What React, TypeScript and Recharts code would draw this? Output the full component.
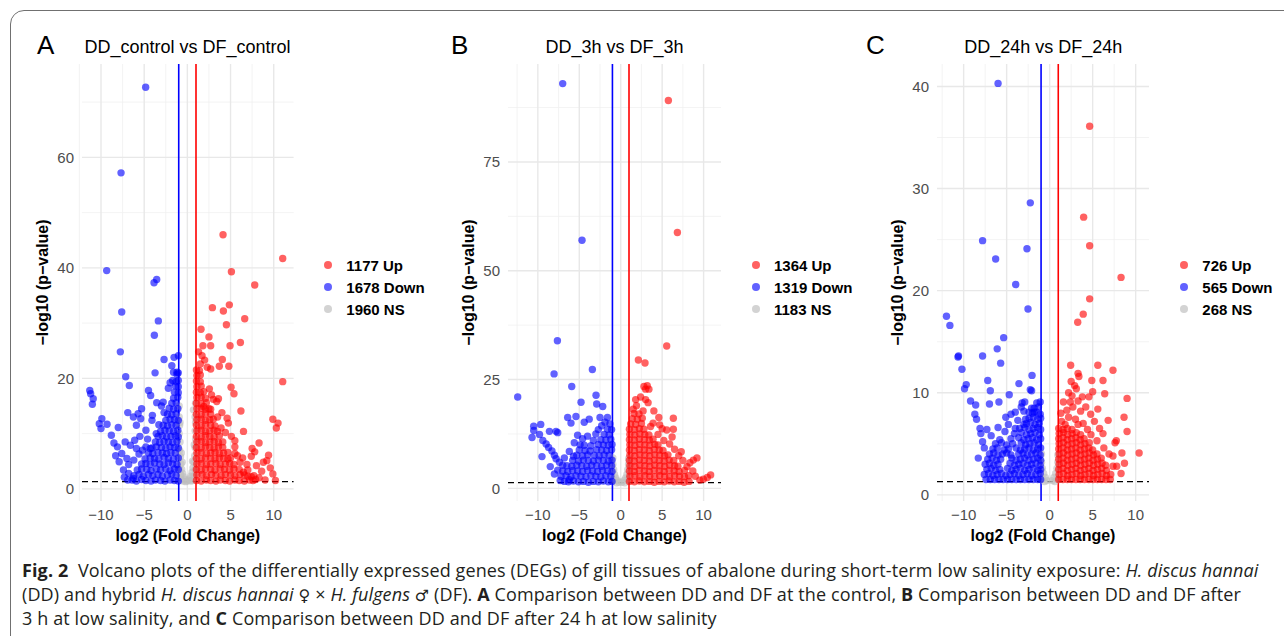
import React from "react";
import { ScatterChart, Scatter, XAxis, YAxis, CartesianGrid, ReferenceLine } from "recharts";

type Pt = [number, number];

// Panel A: DD_control vs DF_control
const downA: Pt[] = [
  [-4.83, 72.7], [-7.68, 57.2], [-9.34, 39.5], [-3.86, 37.3], [-3.55, 37.9], [-7.6, 32.0], [-3.36, 30.4], [-3.82, 27.8],
  [-7.76, 24.8], [-2.7, 23.4], [-1.04, 24.1], [-1.54, 23.8], [-1.8, 22.3], [-3.74, 21.0], [-1.6, 21.1], [-1.2, 21.1],
  [-7.14, 20.3], [-6.72, 18.7], [-11.3, 17.8], [-11.2, 17.2], [-10.9, 16.3], [-11.0, 15.3], [-4.5, 17.8], [-4.25, 16.9],
  [-3.55, 15.6], [-2.8, 15.7], [-2.0, 19.2], [-2.2, 18.2], [-1.7, 19.6], [-9.9, 12.7], [-10.2, 11.8], [-9.3, 11.7],
  [-10.0, 10.9], [-8.0, 11.1], [-6.9, 13.8], [-6.25, 13.0], [-5.7, 13.6], [-5.3, 14.5], [-5.9, 11.5], [-4.8, 10.6],
  [-4.05, 13.3], [-4.1, 12.4], [-5.4, 12.7], [-8.8, 9.7], [-8.5, 8.3], [-8.1, 7.6], [-7.2, 8.5], [-6.6, 7.9],
  [-6.1, 8.8], [-5.9, 7.3], [-4.8, 7.6], [-4.3, 7.3], [-7.6, 6.4], [-7.0, 5.5], [-7.9, 4.9], [-7.4, 3.4], [-6.8, 2.8],
  [-6.25, 1.9], [-6.8, 4.4], [-6.2, 5.2], [-5.6, 6.3], [-5.2, 7.0], [-3.3, 11.6], [-3.6, 10.0], [-2.7, 13.8],
  [-3.0, 15.0], [-7.3, 2.1], [-6.9, 1.6], [-8.3, 6.0], [-5.5, 9.5], [-4.6, 9.0],
  [-6.4, 1.6], [-5.9, 1.4], [-5.3, 1.7], [-4.8, 1.5], [-4.2, 1.4], [-3.7, 1.6], [-3.1, 1.5], [-2.6, 1.4], [-2.0, 1.6], [-1.5, 1.5], [-1.05, 1.4],
  [-6.2, 2.4], [-5.6, 2.6], [-5.1, 2.3], [-4.5, 2.6], [-4.0, 2.4], [-3.4, 2.6], [-2.9, 2.3], [-2.3, 2.5], [-1.8, 2.7], [-1.3, 2.4],
  [-5.8, 3.4], [-5.3, 3.6], [-4.7, 3.5], [-4.2, 3.3], [-3.6, 3.6], [-3.1, 3.4], [-2.5, 3.6], [-2.0, 3.3], [-1.5, 3.6], [-1.05, 3.5],
  [-5.3, 4.5], [-4.8, 4.6], [-4.3, 4.4], [-3.8, 4.7], [-3.2, 4.5], [-2.7, 4.4], [-2.2, 4.7], [-1.7, 4.5], [-1.2, 4.4],
  [-4.9, 5.4], [-4.3, 5.6], [-3.8, 5.5], [-3.3, 5.4], [-2.7, 5.7], [-2.2, 5.5], [-1.6, 5.4], [-1.05, 5.6],
  [-4.5, 6.5], [-4.0, 6.4], [-3.4, 6.6], [-2.9, 6.5], [-2.4, 6.4], [-1.9, 6.6], [-1.4, 6.5],
  [-4.1, 7.4], [-3.6, 7.6], [-3.0, 7.5], [-2.5, 7.4], [-2.0, 7.6], [-1.5, 7.5], [-1.05, 7.4],
  [-3.7, 8.5], [-3.2, 8.4], [-2.7, 8.6], [-2.2, 8.5], [-1.7, 8.4], [-1.2, 8.6],
  [-3.4, 9.5], [-2.9, 9.6], [-2.4, 9.4], [-1.9, 9.5], [-1.4, 9.6], [-1.05, 9.4],
  [-3.1, 10.4], [-2.6, 10.6], [-2.1, 10.5], [-1.6, 10.4], [-1.1, 10.6],
  [-2.8, 11.5], [-2.3, 11.4], [-1.8, 11.6], [-1.3, 11.5],
  [-2.5, 12.4], [-2.0, 12.6], [-1.5, 12.5], [-1.05, 12.4],
  [-2.3, 13.5], [-1.8, 13.4], [-1.3, 13.6], [-2.1, 14.6], [-1.6, 14.4], [-1.1, 14.5],
  [-1.8, 15.5], [-1.3, 15.6], [-1.6, 16.4], [-1.1, 16.6], [-1.5, 17.5], [-1.05, 17.4],
  [-1.4, 18.6], [-1.05, 18.5], [-1.3, 19.4], [-1.05, 19.6], [-1.2, 20.7], [-1.05, 21.0],
];
const upA: Pt[] = [
  [4.13, 46.0], [11.04, 41.7], [5.1, 39.3], [7.8, 36.9], [2.9, 32.8], [4.17, 32.2], [4.86, 33.3], [4.52, 29.7],
  [6.64, 30.8], [1.58, 28.9], [2.5, 27.5], [1.8, 25.9], [2.7, 25.9], [4.94, 25.9], [6.14, 26.5], [1.7, 24.1],
  [2.0, 23.3], [1.5, 22.6], [2.3, 22.0], [2.7, 21.7], [4.05, 23.4], [3.7, 22.2], [4.8, 22.2], [1.3, 24.8],
  [11.04, 19.4], [5.06, 18.4], [5.4, 17.2], [2.55, 18.1], [3.0, 16.2], [3.4, 15.8], [2.8, 17.0], [3.6, 16.3],
  [6.2, 14.1], [2.7, 14.4], [1.9, 14.9], [4.6, 12.8], [4.75, 11.9], [9.9, 12.6], [10.5, 11.9], [10.3, 11.0],
  [6.5, 10.4], [5.1, 9.5], [5.5, 8.7], [8.3, 8.3], [7.5, 7.3], [7.8, 6.7], [7.4, 5.9], [9.4, 6.1], [9.2, 5.1],
  [8.0, 4.2], [8.6, 3.2], [6.9, 4.4], [6.1, 4.8], [5.5, 7.6], [5.5, 6.4], [9.9, 2.7], [10.2, 1.5], [7.0, 3.4],
  [7.7, 2.4], [8.3, 2.0], [9.0, 1.6], [4.4, 10.2], [3.9, 11.0], [4.0, 13.8], [3.5, 13.0], [5.8, 6.0], [6.4, 5.6],
  [8.8, 4.8], [9.6, 3.8], [7.9, 1.7], [6.5, 3.0], [7.6, 1.5], [7.4, 2.2],
  [1.05, 1.5], [1.6, 1.4], [2.2, 1.6], [2.7, 1.5], [3.3, 1.4], [3.8, 1.6], [4.4, 1.5], [4.9, 1.4], [5.5, 1.6], [6.0, 1.5], [6.6, 1.4], [7.2, 1.6],
  [1.1, 2.5], [1.7, 2.6], [2.2, 2.4], [2.8, 2.6], [3.3, 2.5], [3.9, 2.4], [4.4, 2.6], [5.0, 2.5], [5.5, 2.4], [6.1, 2.6], [6.6, 2.5], [7.0, 2.3],
  [1.05, 3.5], [1.6, 3.4], [2.1, 3.6], [2.7, 3.5], [3.2, 3.4], [3.8, 3.6], [4.3, 3.5], [4.9, 3.4], [5.4, 3.6], [6.0, 3.5],
  [1.1, 4.5], [1.6, 4.6], [2.2, 4.4], [2.7, 4.5], [3.3, 4.6], [3.8, 4.4], [4.4, 4.5], [4.9, 4.6], [5.4, 4.4],
  [1.05, 5.5], [1.6, 5.4], [2.1, 5.6], [2.7, 5.5], [3.2, 5.4], [3.7, 5.6], [4.2, 5.5], [4.7, 5.4], [5.0, 5.6],
  [1.1, 6.5], [1.6, 6.6], [2.2, 6.4], [2.7, 6.5], [3.2, 6.6], [3.7, 6.4], [4.2, 6.5], [4.7, 6.6],
  [1.05, 7.5], [1.6, 7.4], [2.1, 7.6], [2.6, 7.5], [3.1, 7.4], [3.6, 7.6], [4.1, 7.5],
  [1.1, 8.5], [1.6, 8.6], [2.1, 8.4], [2.6, 8.5], [3.1, 8.6], [3.6, 8.4], [4.1, 8.5],
  [1.05, 9.5], [1.6, 9.4], [2.1, 9.6], [2.6, 9.5], [3.1, 9.4], [3.7, 9.6],
  [1.1, 10.5], [1.6, 10.6], [2.1, 10.4], [2.6, 10.5], [3.1, 10.6], [3.5, 10.4],
  [1.05, 11.5], [1.6, 11.4], [2.1, 11.6], [2.7, 11.5], [3.2, 11.4],
  [1.1, 12.5], [1.6, 12.6], [2.1, 12.4], [2.6, 12.5], [3.0, 12.6],
  [1.05, 13.5], [1.6, 13.4], [2.1, 13.6], [2.7, 13.5], [1.1, 14.5], [1.6, 14.6], [2.1, 14.4], [2.5, 14.5],
  [1.05, 15.5], [1.6, 15.4], [2.2, 15.6], [1.1, 16.5], [1.6, 16.6], [2.1, 16.4],
  [1.05, 17.5], [1.5, 17.4], [1.9, 17.6], [1.1, 18.5], [1.6, 18.6], [1.05, 19.5], [1.5, 19.4],
  [1.1, 20.5], [1.5, 20.6], [1.05, 21.5], [1.4, 21.4],
];
const nsA: Pt[] = [
  [-0.95, 13.0], [-0.9, 11.5], [-0.95, 10.0], [-0.85, 8.5], [-0.9, 7.0], [-0.8, 5.8], [-0.75, 4.5], [-0.65, 3.5],
  [-0.55, 2.8], [-0.45, 2.2], [-0.3, 1.7], [-0.1, 1.4], [0.1, 1.5], [0.25, 1.8], [0.4, 2.3], [0.55, 3.0], [0.65, 3.8],
  [0.75, 4.8], [0.85, 6.0], [0.9, 7.5], [0.95, 9.0], [0.9, 10.5], [0.95, 12.0], [0.7, 14.3], [0.9, 13.0], [-0.85, 12.0],
  [-0.7, 1.6], [0.6, 1.5], [-0.5, 1.4], [0.4, 1.4], [-0.2, 1.3], [-0.8, 2.5], [0.8, 2.4], [-0.9, 3.5], [0.9, 3.5],
  [-0.7, 6.5], [0.8, 8.0], [-0.6, 4.8], [0.6, 5.0], [-0.95, 15.0], [0.95, 15.5],
];

// Panel B: DD_3h vs DF_3h
const downB: Pt[] = [
  [-7.0, 93.0], [-4.67, 57.0], [-7.64, 33.9], [-8.04, 26.3], [-3.42, 27.3], [-12.43, 21.0], [-5.91, 23.4], [-2.98, 21.4],
  [-4.79, 19.8], [-2.9, 19.4], [-2.17, 18.8], [-6.4, 16.3], [-5.4, 16.5], [-6.0, 15.0], [-4.4, 15.2], [-3.8, 15.9],
  [-2.5, 16.3], [-1.6, 16.3], [-1.9, 15.2], [-2.3, 14.4], [-10.5, 14.3], [-9.65, 14.7], [-10.5, 13.3], [-10.7, 11.7],
  [-9.8, 12.4], [-8.6, 13.1], [-7.8, 13.1], [-7.6, 12.8], [-9.5, 7.3], [-9.4, 11.0], [-9.0, 10.2], [-8.7, 9.4],
  [-8.3, 8.6], [-8.0, 7.6], [-7.8, 6.8], [-7.4, 6.0], [-7.0, 5.3], [-8.5, 5.0], [-7.6, 4.2], [-6.2, 8.5], [-5.7, 7.4],
  [-6.8, 7.0], [-3.6, 9.8], [-3.3, 11.0], [-4.0, 12.0], [-3.0, 12.5], [-2.7, 13.5], [-5.2, 12.2], [-4.6, 11.4],
  [-5.6, 10.5], [-1.3, 14.8], [-3.7, 8.6], [-6.2, 2.0], [-7.3, 1.8], [-8.0, 3.3],
  [-6.8, 1.6], [-6.3, 1.5], [-5.7, 1.7], [-5.1, 1.5], [-4.5, 1.6], [-3.9, 1.4], [-3.3, 1.6], [-2.7, 1.5], [-2.1, 1.7], [-1.5, 1.5], [-1.05, 1.6],
  [-7.2, 2.8], [-6.6, 2.9], [-6.0, 2.7], [-5.4, 2.9], [-4.8, 2.8], [-4.2, 2.7], [-3.6, 2.9], [-3.0, 2.8], [-2.4, 2.7], [-1.8, 2.9], [-1.2, 2.8],
  [-7.0, 4.0], [-6.4, 3.9], [-5.8, 4.1], [-5.2, 4.0], [-4.6, 3.9], [-4.0, 4.1], [-3.4, 4.0], [-2.8, 3.9], [-2.2, 4.1], [-1.6, 4.0], [-1.05, 3.9],
  [-6.5, 5.2], [-5.9, 5.1], [-5.3, 5.3], [-4.7, 5.2], [-4.1, 5.1], [-3.5, 5.3], [-2.9, 5.2], [-2.3, 5.1], [-1.7, 5.3], [-1.1, 5.2],
  [-5.8, 6.4], [-5.1, 6.3], [-4.5, 6.5], [-3.9, 6.4], [-3.3, 6.3], [-2.7, 6.5], [-2.1, 6.4], [-1.5, 6.3], [-1.05, 6.5],
  [-5.3, 7.6], [-4.6, 7.5], [-4.0, 7.7], [-3.2, 7.6], [-2.6, 7.5], [-2.0, 7.7], [-1.4, 7.6],
  [-5.0, 8.8], [-4.3, 8.7], [-2.9, 8.9], [-2.3, 8.8], [-1.7, 8.7], [-1.1, 8.9],
  [-4.9, 10.0], [-4.4, 9.9], [-2.7, 10.1], [-2.1, 10.0], [-1.5, 9.9], [-1.05, 10.1],
  [-2.4, 11.2], [-1.8, 11.1], [-1.2, 11.3], [-2.0, 12.4], [-1.4, 12.3], [-1.6, 13.6], [-1.1, 13.5],
];
const upB: Pt[] = [
  [5.75, 89.1], [6.84, 58.8], [5.55, 32.7], [2.13, 29.5], [2.93, 28.8], [2.8, 23.4], [3.2, 23.6], [3.0, 22.8],
  [3.4, 22.8], [3.0, 20.4], [3.3, 19.7], [4.0, 17.8], [2.7, 17.8], [1.9, 19.0], [1.5, 18.2], [6.35, 16.1], [5.0, 13.7],
  [5.55, 13.4], [6.35, 13.6], [4.5, 12.4], [5.2, 11.0], [5.9, 10.2], [6.5, 9.0], [4.7, 14.6], [3.9, 15.0], [8.76, 6.5],
  [8.35, 5.9], [9.2, 7.0], [9.97, 2.1], [10.45, 2.5], [10.85, 3.1], [9.55, 1.9], [7.0, 7.5], [7.5, 6.4], [8.0, 5.0],
  [8.7, 4.0], [9.0, 2.8], [6.2, 11.8], [4.6, 16.3], [3.6, 14.2], [2.4, 21.0], [1.8, 20.4], [7.3, 8.4],
  [1.05, 1.6], [1.65, 1.5], [2.25, 1.7], [2.85, 1.5], [3.45, 1.6], [4.05, 1.4], [4.65, 1.6], [5.25, 1.5], [5.85, 1.7], [6.45, 1.5], [7.05, 1.6], [7.65, 1.4], [8.25, 1.6],
  [1.1, 2.8], [1.7, 2.9], [2.3, 2.7], [2.9, 2.9], [3.5, 2.8], [4.1, 2.7], [4.7, 2.9], [5.3, 2.8], [5.9, 2.7], [6.5, 2.9], [7.1, 2.8], [7.7, 2.7], [8.2, 2.9],
  [1.05, 4.0], [1.65, 3.9], [2.25, 4.1], [2.85, 4.0], [3.45, 3.9], [4.05, 4.1], [4.65, 4.0], [5.25, 3.9], [5.85, 4.1], [6.45, 4.0], [7.05, 3.9], [7.7, 4.1],
  [1.1, 5.2], [1.7, 5.1], [2.3, 5.3], [2.9, 5.2], [3.5, 5.1], [4.1, 5.3], [4.7, 5.2], [5.3, 5.1], [5.9, 5.3], [6.5, 5.2], [6.9, 5.1],
  [1.05, 6.4], [1.65, 6.3], [2.25, 6.5], [2.85, 6.4], [3.45, 6.3], [4.05, 6.5], [4.65, 6.4], [5.25, 6.3], [5.85, 6.5], [6.4, 6.4],
  [1.1, 7.6], [1.7, 7.5], [2.3, 7.7], [2.9, 7.6], [3.5, 7.5], [4.1, 7.7], [4.7, 7.6], [5.3, 7.5], [5.7, 7.7],
  [1.05, 8.8], [1.65, 8.7], [2.25, 8.9], [2.85, 8.8], [3.45, 8.7], [4.05, 8.9], [4.65, 8.8], [5.1, 8.7],
  [1.1, 10.0], [1.7, 9.9], [2.3, 10.1], [2.9, 10.0], [3.5, 9.9], [4.1, 10.1], [4.5, 10.0],
  [1.05, 11.2], [1.65, 11.1], [2.25, 11.3], [2.85, 11.2], [3.45, 11.1], [3.9, 11.3],
  [1.1, 12.4], [1.7, 12.3], [2.3, 12.5], [2.9, 12.4], [3.4, 12.3],
  [1.05, 13.6], [1.65, 13.5], [2.25, 13.7], [2.8, 13.6], [1.2, 14.8], [1.8, 14.7], [2.5, 14.9],
  [1.4, 16.0], [2.0, 15.9], [2.6, 16.1], [1.6, 17.2], [2.2, 17.1],
];
const nsB: Pt[] = [
  [-0.95, 5.5], [-0.85, 4.3], [-0.75, 3.2], [-0.6, 2.4], [-0.45, 1.8], [-0.2, 1.4], [0.15, 1.4], [0.4, 1.8], [0.6, 2.4],
  [0.75, 3.2], [0.85, 4.3], [0.95, 5.5], [-0.9, 2.0], [0.9, 2.0], [-0.5, 1.3], [0.5, 1.3], [-0.95, 7.0], [0.95, 6.8],
];

// Panel C: DD_24h vs DF_24h
const downC: Pt[] = [
  [-6.0, 40.3], [-2.25, 28.6], [-7.8, 24.9], [-2.64, 24.1], [-6.28, 23.1], [-3.95, 20.6], [-2.52, 18.2], [-12.0, 17.5],
  [-11.6, 16.6], [-5.35, 15.4], [-6.1, 14.3], [-7.8, 13.6], [-10.6, 13.6], [-10.66, 13.5], [-5.7, 12.9], [-10.2, 12.3],
  [-2.05, 11.7], [-7.2, 11.2], [-9.7, 10.8], [-9.9, 10.4], [-3.57, 10.9], [-6.9, 10.2], [-2.25, 10.3], [-2.1, 10.2],
  [-9.2, 9.2], [-8.6, 8.8], [-8.7, 7.9], [-8.5, 7.4], [-7.0, 8.9], [-5.9, 9.1], [-4.7, 9.8], [-3.2, 9.0], [-2.9, 9.1],
  [-2.4, 8.1], [-2.1, 8.5], [-1.8, 8.1], [-4.0, 8.1], [-3.0, 8.2], [-4.5, 7.9], [-5.1, 7.6], [-3.7, 7.3], [-8.1, 6.5],
  [-7.3, 6.4], [-8.0, 6.0], [-6.0, 6.6], [-5.2, 6.2], [-4.0, 6.5], [-4.8, 6.9], [-3.0, 6.9], [-8.3, 3.6], [-7.8, 5.2],
  [-7.6, 4.6], [-6.8, 5.8], [-5.8, 5.4], [-3.3, 8.6], [-2.8, 7.4],
  [-7.4, 1.5], [-6.9, 1.5], [-6.4, 1.5], [-5.9, 1.5], [-5.4, 1.5], [-4.9, 1.5], [-4.4, 1.5], [-3.9, 1.5], [-3.4, 1.5], [-2.9, 1.5], [-2.4, 1.5], [-1.9, 1.5], [-1.4, 1.5], [-1.05, 1.5],
  [-7.6, 2.0], [-7.1, 2.1], [-6.6, 1.9], [-6.1, 2.0], [-5.6, 2.1], [-5.1, 1.9], [-4.6, 2.0], [-4.1, 2.1], [-3.6, 1.9], [-3.1, 2.0], [-2.6, 2.1], [-2.1, 1.9], [-1.6, 2.0], [-1.1, 2.1],
  [-7.3, 2.5], [-6.8, 2.6], [-6.3, 2.4], [-5.8, 2.5], [-4.9, 2.6], [-4.4, 2.4], [-3.9, 2.5], [-3.4, 2.6], [-2.9, 2.4], [-2.4, 2.5], [-1.9, 2.6], [-1.4, 2.4], [-1.05, 2.5],
  [-7.5, 3.0], [-7.0, 3.1], [-6.5, 2.9], [-6.0, 3.0], [-4.6, 3.1], [-4.1, 2.9], [-3.6, 3.0], [-3.1, 3.1], [-2.6, 2.9], [-2.1, 3.0], [-1.6, 3.1], [-1.1, 2.9],
  [-7.2, 3.5], [-6.7, 3.6], [-6.2, 3.4], [-5.7, 3.5], [-4.4, 3.6], [-3.9, 3.4], [-3.4, 3.5], [-2.9, 3.6], [-2.4, 3.4], [-1.9, 3.5], [-1.4, 3.6], [-1.05, 3.4],
  [-7.0, 4.0], [-6.5, 4.1], [-6.0, 3.9], [-5.5, 4.0], [-5.0, 4.1], [-4.5, 3.9], [-3.6, 4.0], [-3.1, 4.1], [-2.6, 3.9], [-2.1, 4.0], [-1.6, 4.1], [-1.1, 3.9],
  [-6.6, 4.5], [-6.1, 4.6], [-5.3, 4.4], [-4.8, 4.5], [-3.9, 4.6], [-3.4, 4.4], [-2.9, 4.5], [-2.4, 4.6], [-1.9, 4.4], [-1.4, 4.5], [-1.05, 4.6],
  [-6.3, 5.0], [-5.6, 5.1], [-5.0, 4.9], [-4.3, 5.0], [-3.3, 5.1], [-2.8, 4.9], [-2.3, 5.0], [-1.8, 5.1], [-1.3, 4.9],
  [-4.5, 5.5], [-3.6, 5.6], [-3.0, 5.4], [-2.5, 5.5], [-2.0, 5.6], [-1.5, 5.4], [-1.05, 5.5],
  [-4.1, 6.0], [-3.3, 6.1], [-2.7, 5.9], [-2.2, 6.0], [-1.7, 6.1], [-1.2, 5.9],
  [-3.5, 6.5], [-2.9, 6.6], [-2.4, 6.4], [-1.9, 6.5], [-1.4, 6.6], [-1.05, 6.4],
  [-2.7, 7.0], [-2.2, 7.1], [-1.7, 6.9], [-1.2, 7.0], [-2.4, 7.5], [-1.9, 7.6], [-1.4, 7.4], [-1.05, 7.5],
  [-2.0, 8.0], [-1.5, 8.1], [-1.1, 7.9], [-1.8, 8.5], [-1.3, 8.6], [-1.5, 9.0], [-1.1, 9.1],
];
const upC: Pt[] = [
  [4.65, 36.1], [3.95, 27.2], [4.65, 24.4], [8.3, 21.3], [4.65, 19.2], [3.9, 17.7], [3.26, 16.9], [2.44, 12.7],
  [5.6, 12.7], [7.36, 12.2], [3.3, 11.9], [3.4, 11.6], [4.9, 11.2], [6.2, 11.2], [2.5, 11.1], [2.9, 10.7], [3.1, 10.4],
  [6.4, 9.9], [4.57, 9.6], [9.0, 9.45], [1.6, 9.1], [2.4, 9.1], [3.3, 9.2], [5.6, 8.4], [8.65, 7.6], [6.8, 7.3],
  [4.77, 7.9], [5.2, 7.2], [5.8, 6.5], [9.0, 6.2], [7.75, 5.3], [7.6, 5.1], [10.4, 4.1], [8.4, 4.1], [7.36, 3.8],
  [8.7, 3.1], [7.36, 2.8], [7.8, 2.8], [8.3, 2.1], [2.0, 8.3], [2.7, 8.6], [3.6, 8.2], [2.2, 7.6], [3.0, 7.4], [3.9, 7.0],
  [1.4, 7.2], [2.6, 9.7], [3.8, 9.6], [4.2, 8.6], [4.4, 6.4], [3.3, 6.9], [1.8, 6.9], [4.8, 5.9], [5.5, 5.3], [6.3, 4.6],
  [6.9, 4.0], [6.2, 6.0], [5.0, 10.1], [2.2, 10.0], [1.3, 8.0],
  [1.05, 1.5], [1.55, 1.5], [2.05, 1.5], [2.55, 1.5], [3.05, 1.5], [3.55, 1.5], [4.05, 1.5], [4.55, 1.5], [5.05, 1.5], [5.55, 1.5], [6.05, 1.5], [6.55, 1.5], [7.05, 1.5],
  [1.1, 2.0], [1.6, 2.1], [2.1, 1.9], [2.6, 2.0], [3.1, 2.1], [3.6, 1.9], [4.1, 2.0], [4.6, 2.1], [5.1, 1.9], [5.6, 2.0], [6.1, 2.1], [6.6, 1.9], [7.1, 2.0],
  [1.05, 2.5], [1.55, 2.6], [2.05, 2.4], [2.55, 2.5], [3.05, 2.6], [3.55, 2.4], [4.05, 2.5], [4.55, 2.6], [5.05, 2.4], [5.55, 2.5], [6.05, 2.6], [6.6, 2.4],
  [1.1, 3.0], [1.6, 3.1], [2.1, 2.9], [2.6, 3.0], [3.1, 3.1], [3.6, 2.9], [4.1, 3.0], [4.6, 3.1], [5.1, 2.9], [5.6, 3.0], [6.1, 3.1], [6.5, 2.9],
  [1.05, 3.5], [1.55, 3.6], [2.05, 3.4], [2.55, 3.5], [3.05, 3.6], [3.55, 3.4], [4.05, 3.5], [4.55, 3.6], [5.05, 3.4], [5.55, 3.5], [6.0, 3.6],
  [1.1, 4.0], [1.6, 4.1], [2.1, 3.9], [2.6, 4.0], [3.1, 4.1], [3.6, 3.9], [4.1, 4.0], [4.6, 4.1], [5.1, 3.9], [5.5, 4.0],
  [1.05, 4.5], [1.55, 4.6], [2.05, 4.4], [2.55, 4.5], [3.05, 4.6], [3.55, 4.4], [4.05, 4.5], [4.55, 4.6], [5.0, 4.4],
  [1.1, 5.0], [1.6, 5.1], [2.1, 4.9], [2.6, 5.0], [3.1, 5.1], [3.6, 4.9], [4.1, 5.0], [4.6, 5.1],
  [1.05, 5.5], [1.55, 5.6], [2.05, 5.4], [2.55, 5.5], [3.05, 5.6], [3.55, 5.4], [4.0, 5.5],
  [1.1, 6.0], [1.6, 6.1], [2.1, 5.9], [2.6, 6.0], [3.1, 6.1], [3.6, 5.9],
  [1.05, 6.5], [1.55, 6.4], [2.05, 6.5], [2.6, 6.4],
];
const nsC: Pt[] = [
  [-0.95, 3.2], [-0.85, 2.6], [-0.7, 2.1], [-0.5, 1.7], [-0.3, 1.4], [0.3, 1.4], [0.5, 1.7], [0.7, 2.1], [0.85, 2.6],
  [0.95, 3.2], [-0.9, 1.5], [0.9, 1.5], [-0.95, 4.0], [0.95, 3.9], [-0.6, 1.3], [0.6, 1.3],
];

const xTicks = [-10, -5, 0, 5, 10];
const xMinor = [-12.5, -7.5, -2.5, 2.5, 7.5];

const RED = "#ff0000";
const BLUE = "#0000ff";
const GREY = "#bebebe";

const PLOT_TOP = 64;

const toPts = (arr: Pt[]) => arr.map(([x, y]) => ({ x, y }));
const fmt = (v: number) => (v < 0 ? `\u2212${Math.abs(v)}` : `${v}`);

const dot = (color: string) => (props: any) =>
  <circle cx={props.cx} cy={props.cy} r={3.7} fill={color} fillOpacity={0.62} />;

interface PanelProps {
  letter: string;
  letterLeft: number;
  title: string;
  plotLeft: number;
  plotW: number;
  xDomain: [number, number];
  yDomain: [number, number];
  yTicks: number[];
  yMinor: number[];
  up: Pt[];
  down: Pt[];
  ns: Pt[];
  counts: [string, string, string];
}

function Panel(p: PanelProps) {
  const chartLeft = p.plotLeft - 60;
  const width = 60 + p.plotW + 5;
  const plotRight = p.plotLeft + p.plotW;
  return (
    <>
      <div style={{ position: "absolute", left: p.letterLeft, top: 32, fontSize: 26, lineHeight: "26px", fontFamily: "'Liberation Sans', Arial, sans-serif", color: "#000" }}>
        {p.letter}
      </div>
      <div style={{ position: "absolute", left: p.plotLeft - 50, width: p.plotW + 100, top: 38, textAlign: "center", fontSize: 18, lineHeight: "18px", fontFamily: "'Liberation Sans', Arial, sans-serif", color: "#000" }}>
        {p.title}
      </div>
      <div style={{ position: "absolute", left: chartLeft, top: 0 }}>
        <ScatterChart width={width} height={560} margin={{ top: PLOT_TOP, right: 5, bottom: 19, left: 15 }}
          style={{ fontFamily: "'Liberation Sans', Arial, sans-serif" }}>
          <CartesianGrid stroke="#f0f0f0" strokeWidth={0.8} verticalValues={xMinor} horizontalValues={p.yMinor} />
          <CartesianGrid stroke="#e8e8e8" strokeWidth={1.4} verticalValues={xTicks} horizontalValues={p.yTicks} />
          <XAxis type="number" dataKey="x" domain={p.xDomain} allowDataOverflow ticks={xTicks} tickFormatter={fmt}
            axisLine={false} tickLine={false} height={40} interval={0}
            tick={{ fill: "#4d4d4d", fontSize: 15 }}
            label={{ value: "log2 (Fold Change)", position: "insideBottom", offset: 0, style: { fontWeight: "bold", fontSize: 16, fill: "#000" } }} />
          <YAxis type="number" dataKey="y" domain={p.yDomain} allowDataOverflow ticks={p.yTicks} tickFormatter={fmt}
            axisLine={false} tickLine={false} width={45} interval={0}
            tick={{ fill: "#4d4d4d", fontSize: 15 }}
            label={{ value: "\u2212log10 (p\u2212value)", angle: -90, position: "insideLeft", offset: 5, style: { textAnchor: "middle", fontWeight: "bold", fontSize: 16, fill: "#000" } }} />
          <Scatter data={toPts(p.ns)} shape={dot(GREY)} isAnimationActive={false} />
          <Scatter data={toPts(p.down)} shape={dot(BLUE)} isAnimationActive={false} />
          <Scatter data={toPts(p.up)} shape={dot(RED)} isAnimationActive={false} />
          <ReferenceLine x={-1} stroke={BLUE} strokeWidth={1.6} />
          <ReferenceLine x={1} stroke={RED} strokeWidth={1.6} />
          <ReferenceLine y={1.3} stroke="#000" strokeWidth={1.3} strokeDasharray="6 4" />
        </ScatterChart>
      </div>
      <div style={{ position: "absolute", left: plotRight + 31, top: 254, fontFamily: "'Liberation Sans', Arial, sans-serif", fontWeight: "bold", fontSize: 15, color: "#000" }}>
        {[
          { c: "rgba(255,0,0,0.62)", t: p.counts[0] },
          { c: "rgba(0,0,255,0.62)", t: p.counts[1] },
          { c: "#d3d3d3", t: p.counts[2] },
        ].map((r) => (
          <div key={r.t} style={{ height: 22, display: "flex", alignItems: "center" }}>
            <span style={{ width: 8, height: 8, borderRadius: 4, background: r.c, display: "inline-block", marginRight: 14 }} />
            <span>{r.t}</span>
          </div>
        ))}
      </div>
    </>
  );
}

const capFont = "'Open Sans', 'Liberation Sans', sans-serif";
const sym = { fontFamily: "'DejaVu Sans', sans-serif", fontSize: 16 };

export default function App() {
  return (
    <div style={{ position: "absolute", left: 0, top: 0, width: 1284, height: 636, overflow: "hidden", background: "#fff" }}>
      <div style={{ position: "absolute", left: 10, top: 10, width: 1320, height: 700, border: "1.5px solid #707070", borderRadius: 14, boxSizing: "border-box" }} />
      <Panel letter="A" letterLeft={37} title="DD_control vs DF_control" plotLeft={81.7} plotW={211.6}
        xDomain={[-12.2, 12.3]} yDomain={[-2.2, 76.9]} yTicks={[0, 20, 40, 60]} yMinor={[10, 30, 50, 70]}
        up={upA} down={downA} ns={nsA} counts={["1177 Up", "1678 Down", "1960 NS"]} />
      <Panel letter="B" letterLeft={451} title="DD_3h vs DF_3h" plotLeft={508} plotW={213}
        xDomain={[-13.6, 12.1]} yDomain={[-2.9, 97.5]} yTicks={[0, 25, 50, 75]} yMinor={[12.5, 37.5, 62.5, 87.5]}
        up={upB} down={downB} ns={nsB} counts={["1364 Up", "1319 Down", "1183 NS"]} />
      <Panel letter="C" letterLeft={866} title="DD_24h vs DF_24h" plotLeft={937.3} plotW={212}
        xDomain={[-13.1, 11.55]} yDomain={[-0.6, 42.2]} yTicks={[0, 10, 20, 30, 40]} yMinor={[5, 15, 25, 35]}
        up={upC} down={downC} ns={nsC} counts={["726 Up", "565 Down", "268 NS"]} />
      <div style={{ position: "absolute", left: 22, top: 559, fontFamily: capFont, fontSize: 18, letterSpacing: 0.12, lineHeight: "23.5px", color: "#231f20", whiteSpace: "nowrap" }}>
        <div>
          <b>Fig. 2</b>&nbsp;&nbsp;Volcano plots of the differentially expressed genes (DEGs) of gill tissues of abalone during short-term low salinity exposure: <i>H. discus hannai</i>
        </div>
        <div>
          (DD) and hybrid <i>H. discus hannai</i> <span style={sym}>♀</span> × <i>H. fulgens</i> <span style={sym}>♂</span> (DF). <b>A</b> Comparison between DD and DF at the control, <b>B</b> Comparison between DD and DF after
        </div>
        <div>
          3 h at low salinity, and <b>C</b> Comparison between DD and DF after 24 h at low salinity
        </div>
      </div>
    </div>
  );
}
